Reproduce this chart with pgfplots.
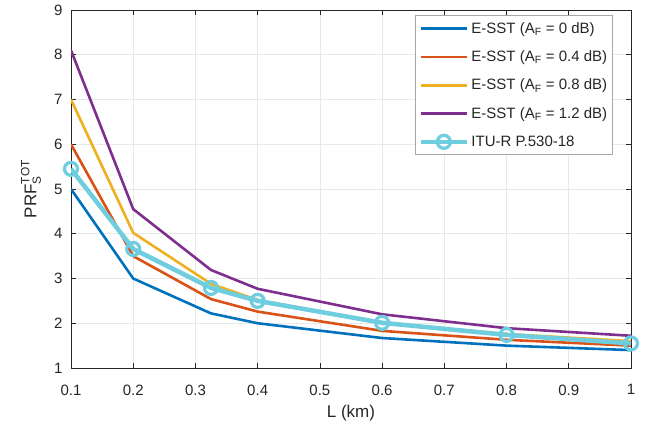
\documentclass[border=0pt]{standalone}
\usepackage{amsmath}
\usepackage{fontspec}
\setmainfont{Liberation Sans}
\usepackage{pgfplots}
\pgfplotsset{compat=1.18}

\definecolor{mblue}{rgb}{0,0.447,0.741}
\definecolor{morange}{rgb}{0.85,0.325,0.098}
\definecolor{myellow}{rgb}{0.929,0.694,0.125}
\definecolor{mpurple}{rgb}{0.494,0.184,0.556}
\definecolor{mcyan}{RGB}{110,205,222}
\definecolor{axgray}{rgb}{0.15,0.15,0.15}

\begin{document}
\begin{tikzpicture}
\begin{axis}[
    scale only axis,
    width=560pt, height=358pt,
    xmin=0.1, xmax=1, ymin=1, ymax=9,
    xtick={0.1,0.2,...,1.0},
    xticklabels={0.1,0.2,0.3,0.4,0.5,0.6,0.7,0.8,0.9,1},
    ytick={1,...,9},
    tick align=inside,
    major tick length=5pt,
    grid=major,
    grid style={gray!18, line width=0.6pt},
    axis line style={axgray, line width=0.7pt},
    tick style={axgray, line width=0.7pt},
    every tick label/.append style={text=axgray, font=\fontsize{15}{18}\selectfont},
    every x tick label/.append style={yshift=-6pt},
    every y tick label/.append style={xshift=-3pt},
    xticklabel shift=7pt,
    yticklabel shift=2pt,
    /pgf/number format/assume math mode=true,
    xlabel={L (km)},
    ylabel={$\text{PRF}^{\text{TOT}}_{\text{S}}$},
    label style={text=axgray, font=\fontsize{17}{20}\selectfont},
    xlabel style={at={(axis description cs:0.5,0)}, anchor=center, yshift=-45pt},
    ylabel style={at={(axis description cs:0,0.5)}, anchor=center, yshift=40pt},
    legend cell align=left,
    legend style={at={(0.967,0.986)}, anchor=north east, draw=gray!70,
        line width=0.7pt, fill=white, text=axgray,
        font=\fontsize{15}{18}\selectfont, row sep=12pt,
        inner xsep=3pt, inner ysep=5pt},
    legend image code/.code={
        \draw[mark repeat=2,mark phase=2] plot coordinates {(0cm,0cm) (0.82cm,0cm) (1.64cm,0cm)};
    },
]
\addplot[mblue, line width=2.6pt] coordinates {
(0.1,5.0) (0.2,3.0) (0.325,2.22) (0.4,2.0) (0.6,1.67) (0.8,1.5) (1.0,1.4)};
\addlegendentry{E-SST (A$_{\text{F}}$ = 0 dB)}
\addplot[morange, line width=2.6pt] coordinates {
(0.1,6.0) (0.2,3.5) (0.325,2.54) (0.4,2.26) (0.6,1.83) (0.8,1.63) (1.0,1.5)};
\addlegendentry{E-SST (A$_{\text{F}}$ = 0.4 dB)}
\addplot[myellow, line width=2.6pt] coordinates {
(0.1,7.0) (0.2,4.02) (0.325,2.88) (0.4,2.52) (0.6,2.01) (0.8,1.76) (1.0,1.6)};
\addlegendentry{E-SST (A$_{\text{F}}$ = 0.8 dB)}
\addplot[mpurple, line width=2.6pt] coordinates {
(0.1,8.1) (0.2,4.55) (0.325,3.19) (0.4,2.77) (0.6,2.2) (0.8,1.89) (1.0,1.72)};
\addlegendentry{E-SST (A$_{\text{F}}$ = 1.2 dB)}
\addplot[mcyan, line width=4.5pt, mark=o, mark size=6.5pt,
    mark options={line width=3.2pt}] coordinates {
(0.1,5.45) (0.2,3.66) (0.325,2.79) (0.4,2.5) (0.6,2.01) (0.8,1.74) (1.0,1.55)};
\addlegendentry{ITU-R P.530-18}
\end{axis}
\path (current axis.south west) ++(-71pt,-60pt) rectangle ([xshift=14pt,yshift=10pt]current axis.north east);
\end{tikzpicture}
\end{document}
